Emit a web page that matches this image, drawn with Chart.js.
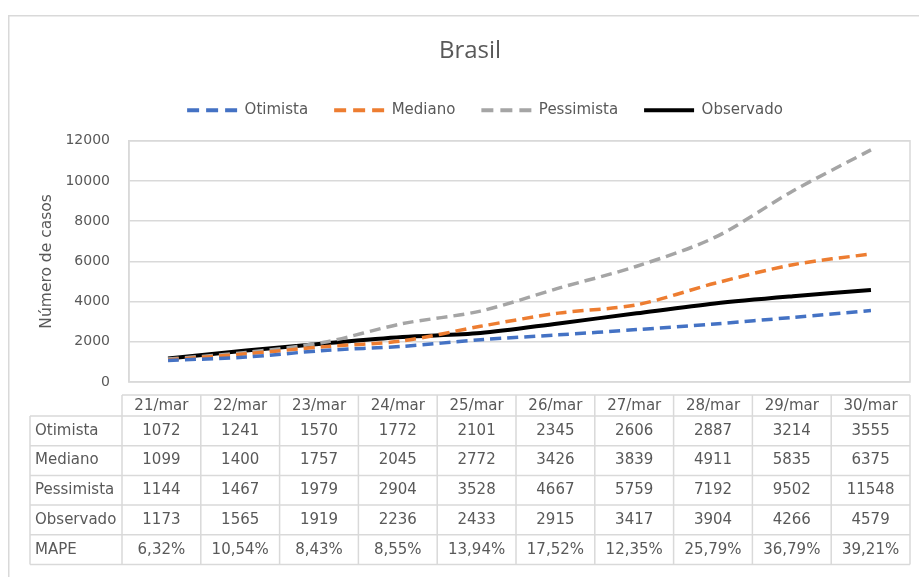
<!DOCTYPE html>
<html><head><meta charset="utf-8">
<script src="https://cdn.jsdelivr.net/npm/chart.js@4.4.1/dist/chart.umd.min.js"></script>
<style>html,body{margin:0;padding:0;background:#fff}canvas{display:block}</style>
</head><body>
<canvas id="c" width="919" height="577"></canvas>
<script>
const categories = ['21/mar','22/mar','23/mar','24/mar','25/mar','26/mar','27/mar','28/mar','29/mar','30/mar'];
const otimista   = [1072,1241,1570,1772,2101,2345,2606,2887,3214,3555];
const mediano    = [1099,1400,1757,2045,2772,3426,3839,4911,5835,6375];
const pessimista = [1144,1467,1979,2904,3528,4667,5759,7192,9502,11548];
const observado  = [1173,1565,1919,2236,2433,2915,3417,3904,4266,4579];
const mape       = [6.32,10.54,8.43,8.55,13.94,17.52,12.35,25.79,36.79,39.21];
const yTicks     = [0,2000,4000,6000,8000,10000,12000];
const seriesNames = ['Otimista','Mediano','Pessimista','Observado'];
const chartTitle = 'Brasil';
const yTitle = 'Número de casos';
const tableRowLabels = ['Otimista','Mediano','Pessimista','Observado','MAPE'];

const GRID = '#D9D9D9';
const TEXT = '#595959';
const FONT = "'DejaVu Sans', sans-serif";

const fmtPct = v => v.toFixed(2).replace('.', ',') + '%';

const frame = {
  id: 'frame',
  beforeLayout(chart) {
    const lg = chart.legend;
    if (lg && !lg._extraPatched) {
      const f = lg.fit;
      lg.fit = function () { f.call(this); this.height += 13; };
      lg._extraPatched = true;
    }
  },
  afterLayout(chart) {
    const lg = chart.legend;
    if (lg) { lg.left += 15; lg.right += 15; }
  },
  beforeDraw(chart) {
    const ctx = chart.ctx;
    ctx.save();
    ctx.fillStyle = '#fff';
    ctx.fillRect(0, 0, chart.width, chart.height);
    ctx.strokeStyle = GRID;
    ctx.lineWidth = 1.5;
    ctx.beginPath();
    ctx.moveTo(8.75, chart.height);
    ctx.lineTo(8.75, 15.75);
    ctx.lineTo(chart.width, 15.75);
    ctx.stroke();
    ctx.restore();
  },
  beforeDatasetsDraw(chart) {
    const a = chart.chartArea, ctx = chart.ctx;
    ctx.save();
    ctx.strokeStyle = GRID;
    ctx.lineWidth = 1.5;
    ctx.strokeRect(a.left, a.top, a.right - a.left, a.bottom - a.top);
    ctx.restore();
  }
};

const dataTable = {
  id: 'dataTable',
  afterDraw(chart) {
    const a = chart.chartArea, ctx = chart.ctx;
    const tableLeft = a.left - 7, tableRight = a.right;
    const n = categories.length;
    const colW = (tableRight - tableLeft) / n;
    const labelLeft = 30;
    const headerTop = a.bottom + 13;
    const headerH = 21;
    const rowH = 29.7;
    const rows = [otimista, mediano, pessimista, observado, mape];
    const bottom = headerTop + headerH + rows.length * rowH;
    ctx.save();
    ctx.strokeStyle = GRID;
    ctx.lineWidth = 1.5;
    ctx.beginPath();
    ctx.moveTo(tableLeft, headerTop); ctx.lineTo(tableRight, headerTop);
    for (let r = 0; r <= rows.length; r++) {
      const y = headerTop + headerH + r * rowH;
      ctx.moveTo(labelLeft, y); ctx.lineTo(tableRight, y);
    }
    ctx.moveTo(labelLeft, headerTop + headerH); ctx.lineTo(labelLeft, bottom);
    for (let i = 0; i <= n; i++) {
      const x = tableLeft + i * colW;
      ctx.moveTo(x, headerTop); ctx.lineTo(x, bottom);
    }
    ctx.stroke();

    ctx.fillStyle = TEXT;
    ctx.font = '15px ' + FONT;
    ctx.textBaseline = 'middle';
    ctx.textAlign = 'center';
    categories.forEach((c, i) => ctx.fillText(c, tableLeft + (i + 0.5) * colW, headerTop + headerH / 2 + 1));
    rows.forEach((vals, r) => {
      const yc = headerTop + headerH + (r + 0.5) * rowH;
      ctx.textAlign = 'left';
      ctx.fillText(tableRowLabels[r], labelLeft + 5, yc);
      ctx.textAlign = 'center';
      vals.forEach((v, i) => {
        const s = r === 4 ? fmtPct(v) : String(v);
        ctx.fillText(s, tableLeft + (i + 0.5) * colW, yc);
      });
    });
    ctx.restore();
  }
};

const dashed = [11, 6];
new Chart(document.getElementById('c'), {
  type: 'line',
  data: {
    labels: categories,
    datasets: [
      { label: seriesNames[0], data: otimista,   borderColor: '#4472C4', backgroundColor: '#4472C4', borderDash: dashed, borderWidth: 3.5 },
      { label: seriesNames[1], data: mediano,    borderColor: '#ED7D31', backgroundColor: '#ED7D31', borderDash: dashed, borderWidth: 3.5 },
      { label: seriesNames[2], data: pessimista, borderColor: '#A5A5A5', backgroundColor: '#A5A5A5', borderDash: dashed, borderWidth: 3.5 },
      { label: seriesNames[3], data: observado,  borderColor: '#000000', backgroundColor: '#000000', borderWidth: 4 }
    ]
  },
  options: {
    responsive: false,
    animation: false,
    devicePixelRatio: 1,
    layout: { padding: { top: 0, left: 30, right: 9, bottom: 195 } },
    elements: { point: { radius: 0, hoverRadius: 0 }, line: { tension: 0.3, borderCapStyle: 'butt' } },
    plugins: {
      title: {
        display: true, text: chartTitle, color: TEXT,
        font: { family: "'Open Sans', sans-serif", size: 24, weight: 'normal' },
        padding: { top: 37, bottom: 11 }
      },
      legend: {
        position: 'top',
        labels: {
          usePointStyle: true, pointStyle: 'line', pointStyleWidth: 50,
          boxHeight: 15,
          color: TEXT, padding: 26,
          font: { family: FONT, size: 15 },
          generateLabels(chart) {
            const items = Chart.defaults.plugins.legend.labels.generateLabels(chart);
            items.forEach((it) => {
              const ds = chart.data.datasets[it.datasetIndex];
              it.lineDash = ds.borderDash ? [12, 7] : [];
              it.lineWidth = 4;
              it.strokeStyle = ds.borderColor;
              it.fillStyle = ds.borderColor;
            });
            return items;
          }
        }
      },
      tooltip: { enabled: false }
    },
    scales: {
      x: { type: 'category', display: false, offset: true },
      y: {
        min: 0, max: 12000,
        afterBuildTicks(scale) { scale.ticks = yTicks.map(v => ({ value: v })); },
        afterFit(scale) { scale.width = 99; },
        grid: { color: GRID, lineWidth: 1.5, drawTicks: false },
        border: { display: true, color: GRID, width: 1.5 },
        ticks: { color: TEXT, padding: 19, font: { family: FONT, size: 14 }, callback: v => String(v) },
        title: { display: true, text: yTitle, color: TEXT, font: { family: FONT, size: 15.5 }, padding: { top: 8, bottom: 9 } }
      }
    }
  },
  plugins: [frame, dataTable]
});
</script>
</body></html>
